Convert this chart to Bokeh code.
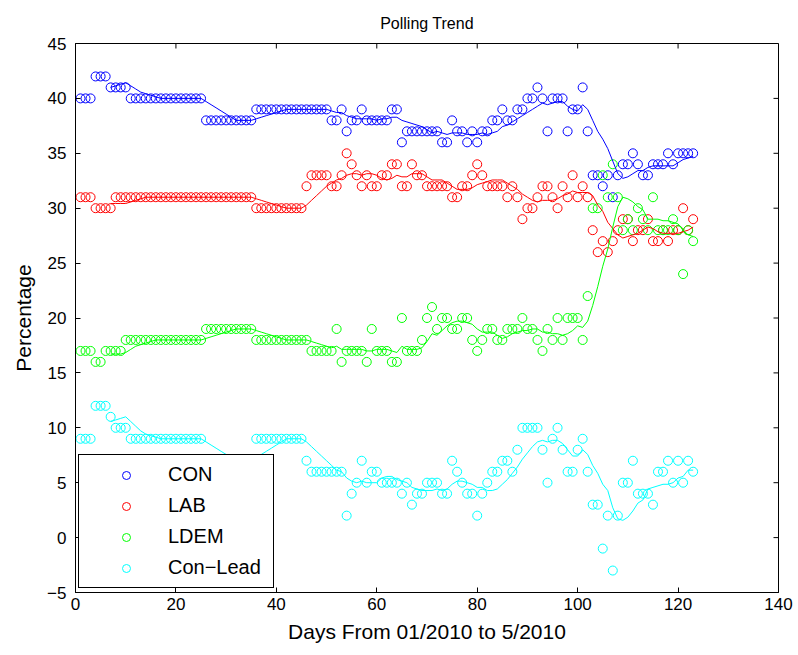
import math
import pandas as pd
from bokeh.plotting import figure
from bokeh.models import Legend, LegendItem, Range1d, FixedTicker
from bokeh.embed import file_html
from bokeh.resources import INLINE

# Daily polling figures, 1 Jan 2010 onwards (day index 1..123)
days = list(range(1, 124))

con = [
    40, 40, 40, 42, 42, 42, 41, 41, 41, 41,
    40, 40, 40, 40, 40, 40, 40, 40, 40, 40,
    40, 40, 40, 40, 40, 38, 38, 38, 38, 38,
    38, 38, 38, 38, 38, 39, 39, 39, 39, 39,
    39, 39, 39, 39, 39, 39, 39, 39, 39, 39,
    38, 38, 39, 37, 38, 38, 39, 38, 38, 38,
    38, 38, 39, 39, 36, 37, 37, 37, 37, 37,
    37, 37, 36, 36, 38, 37, 37, 36, 37, 36,
    37, 37, 38, 38, 39, 38, 38, 39, 39, 40,
    40, 41, 40, 37, 40, 40, 40, 37, 39, 39,
    41, 37, 33, 33, 32, 33, 31, 33, 34, 34,
    35, 34, 33, 33, 34, 34, 34, 35, 34, 35,
    35, 35, 35,
]

lab = [
    31, 31, 31, 30, 30, 30, 30, 31, 31, 31,
    31, 31, 31, 31, 31, 31, 31, 31, 31, 31,
    31, 31, 31, 31, 31, 31, 31, 31, 31, 31,
    31, 31, 31, 31, 31, 30, 30, 30, 30, 30,
    30, 30, 30, 30, 30, 32, 33, 33, 33, 33,
    32, 32, 33, 35, 34, 33, 32, 33, 32, 32,
    33, 33, 34, 34, 32, 32, 34, 33, 33, 32,
    32, 32, 32, 32, 31, 31, 32, 32, 33, 34,
    33, 32, 32, 32, 32, 31, 32, 31, 29, 30,
    30, 31, 32, 32, 31, 30, 32, 31, 33, 31,
    32, 31, 28, 26, 27, 26, 27, 28, 29, 29,
    27, 28, 28, 29, 27, 27, 28, 27, 28, 28,
    30, 28, 29,
]

ldem = [
    17, 17, 17, 16, 16, 17, 17, 17, 17, 18,
    18, 18, 18, 18, 18, 18, 18, 18, 18, 18,
    18, 18, 18, 18, 18, 19, 19, 19, 19, 19,
    19, 19, 19, 19, 19, 18, 18, 18, 18, 18,
    18, 18, 18, 18, 18, 18, 17, 17, 17, 17,
    17, 19, 16, 17, 17, 17, 17, 16, 19, 17,
    17, 17, 16, 16, 20, 17, 17, 17, 18, 20,
    21, 19, 20, 20, 19, 19, 20, 20, 18, 17,
    18, 19, 19, 18, 18, 19, 19, 19, 20, 19,
    19, 18, 17, 19, 18, 20, 18, 20, 20, 20,
    18, 22, 30, 30, 33, 31, 34, 31, 28, 29,
    28, 30, 29, 28, 31, 28, 28, 28, 29, 28,
    24, 28, 27,
]

con_lead = [
    9, 9, 9, 12, 12, 12, 11, 10, 10, 10,
    9, 9, 9, 9, 9, 9, 9, 9, 9, 9,
    9, 9, 9, 9, 9, 7, 7, 7, 7, 7,
    7, 7, 7, 7, 7, 9, 9, 9, 9, 9,
    9, 9, 9, 9, 9, 7, 6, 6, 6, 6,
    6, 6, 6, 2, 4, 5, 7, 5, 6, 6,
    5, 5, 5, 5, 4, 5, 3, 4, 4, 5,
    5, 5, 4, 4, 7, 6, 5, 4, 4, 2,
    4, 5, 6, 6, 7, 7, 6, 8, 10, 10,
    10, 10, 8, 5, 9, 10, 8, 6, 6, 8,
    9, 6, 3, 3, -1, 2, -3, 2, 5, 5,
    7, 4, 4, 4, 3, 6, 6, 7, 5, 7,
    5, 7, 6,
]

series_names = ["CON", "LAB", "LDEM", "Con\u2212Lead"]
series_values = [con, lab, ldem, con_lead]
series_colors = ["#0000ff", "#ff0000", "#00ff00", "#00ffff"]

x_ticks = [0, 20, 40, 60, 80, 100, 120, 140]
y_ticks = [-5, 0, 5, 10, 15, 20, 25, 30, 35, 40, 45]
X_MAX, Y_MIN, Y_MAX = 140, -5, 45

FONT = "Liberation Sans"

p = figure(
    width=798, height=655,
    x_range=Range1d(0, X_MAX), y_range=Range1d(Y_MIN, Y_MAX),
    output_backend="svg", toolbar_location=None,
    min_border_left=75, min_border_right=20,
    min_border_top=42, min_border_bottom=63,
    title="Polling Trend",
)
p.background_fill_color = "white"
p.border_fill_color = "white"
p.outline_line_color = "black"
p.outline_line_width = 1
p.outline_line_alpha = 1.0
p.xgrid.visible = False
p.ygrid.visible = False

p.title.align = "center"
p.title.text_font = FONT
p.title.text_font_size = "16px"
p.title.text_font_style = "normal"
p.title.text_color = "black"
p.title.standoff = 24

for ax, ticks in ((p.xaxis[0], x_ticks), (p.yaxis[0], y_ticks)):
    ax.ticker = FixedTicker(ticks=ticks)
    ax.major_tick_in = 5
    ax.major_tick_out = 0
    ax.minor_tick_in = 0
    ax.minor_tick_out = 0
    ax.axis_line_color = "black"
    ax.major_tick_line_color = "black"
    ax.major_label_text_font = FONT
    ax.major_label_text_font_size = "17px"
    ax.major_label_text_color = "black"
    ax.axis_label_text_font = FONT
    ax.axis_label_text_font_size = "21px"
    ax.axis_label_text_font_style = "normal"
    ax.axis_label_text_color = "black"

p.xaxis.axis_label = "Days From 01/2010 to 5/2010"
p.yaxis.axis_label = "Percentage"
p.xaxis.major_label_standoff = 5
p.yaxis.major_label_standoff = 9
p.xaxis.axis_label_standoff = 7
p.yaxis.axis_label_standoff = 9

# inward tick marks along the top and right edges of the box
p.ray(x=x_ticks, y=[Y_MAX] * len(x_ticks), length=5, length_units="screen",
      angle=-math.pi / 2, line_color="black", line_width=1)
p.ray(x=[X_MAX] * len(y_ticks), y=y_ticks, length=5, length_units="screen",
      angle=math.pi, line_color="black", line_width=1)

items = []
for name, vals, color in zip(series_names, series_values, series_colors):
    r = p.scatter(days, vals, marker="circle", size=9, fill_color=None,
                  line_color=color, line_width=1)
    items.append(LegendItem(label=name, renderers=[r]))

# 7-day trailing average trend lines
for vals, color in zip(series_values, series_colors):
    trend = pd.Series(vals, dtype=float).rolling(7).mean()
    p.line(days[6:], trend.iloc[6:].tolist(), line_color=color, line_width=1)

legend = Legend(
    items=items,
    location=(3, 4),
    orientation="vertical",
    border_line_color="black",
    border_line_width=1,
    border_line_alpha=1.0,
    background_fill_color="white",
    background_fill_alpha=1.0,
    label_text_font=FONT,
    label_text_font_size="20px",
    label_text_color="black",
    glyph_width=78,
    glyph_height=20,
    label_standoff=3,
    label_height=20,
    label_width=97,
    spacing=8,
    padding=8,
    margin=0,
)
p.add_layout(legend)

open("out.html", "w").write(file_html(p, INLINE))
